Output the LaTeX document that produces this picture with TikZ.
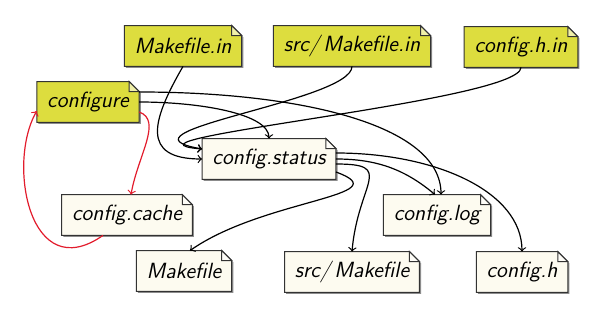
\documentclass[tikz,border=0pt]{standalone}
\usetikzlibrary{backgrounds}
\definecolor{infileyellow}{RGB}{221,221,62}
\definecolor{outfilecream}{RGB}{253,251,240}
\definecolor{cachered}{RGB}{226,28,44}

% dog-eared sheet behind a named node
\newcommand{\sheet}[2]{%
  \fill[black!45]
    ([shift={(0.8pt,-0.8pt)}]#1.north west) -- ([shift={(-4.2pt,-0.8pt)}]#1.north east)
    -- ([shift={(0.8pt,-5.8pt)}]#1.north east) -- ([shift={(0.8pt,-0.8pt)}]#1.south east)
    -- ([shift={(0.8pt,-0.8pt)}]#1.south west) -- cycle;
  \filldraw[fill=#2, draw=black!80, line width=0.5pt]
    (#1.north west) -- ([xshift=-5pt]#1.north east) -- ([yshift=-5pt]#1.north east)
    -- (#1.south east) -- (#1.south west) -- cycle;
  \filldraw[fill=#2!45!white, draw=black!80, line width=0.5pt]
    ([xshift=-5pt]#1.north east) -- ([shift={(-5pt,-5pt)}]#1.north east)
    -- ([yshift=-5pt]#1.north east) -- cycle;
}

\begin{document}
\begin{tikzpicture}[
  x=0.5pt, y=0.5pt,
  file/.style={font=\sffamily\itshape\fontsize{11}{13}\selectfont, minimum height=20pt, inner xsep=5pt, inner ysep=2pt},
  flow/.style={->, semithick},
  cacheflow/.style={->, semithick, cachered},
]
\useasboundingbox (0,0) rectangle (600,316);

% inputs
\node[file] (mkin)      at (183,270) {Makefile.in};
\node[file] (srcmkin)   at (352,270) {src/\,Makefile.in};
\node[file] (cfghin)    at (521,269) {config.h.in};
\node[file] (configure) at (88,214)  {configure};

% outputs
\node[file] (status) at (269,157) {config.status};
\node[file] (cache)  at (127,101) {config.cache};
\node[file] (log)    at (437,101) {config.log};
\node[file] (mk)     at (184,45)  {Makefile};
\node[file] (srcmk)  at (352,44)  {src/\,Makefile};
\node[file] (cfgh)   at (522,44)  {config.h};

\begin{scope}[on background layer]
  \foreach \f in {mkin,srcmkin,cfghin,configure}
    \sheet{\f}{infileyellow};
  \foreach \f in {status,cache,log,mk,srcmk,cfgh}
    \sheet{\f}{outfilecream};
\end{scope}

% templates into config.status
\draw[flow] (mkin.south) .. controls +(-120:62) and +(180:62) .. (status.west);
\draw[flow] (srcmkin.south) .. controls +(-90:35) and +(170:100) .. ([yshift=5pt]status.west);
\draw[flow] (cfghin.south) .. controls +(-90:34) and +(175:110) .. ([yshift=5pt]status.west);

% configure
\draw[flow] (configure.east) .. controls +(0:60) and +(90:25) .. (status.north);
\draw[flow] ([yshift=5pt]configure.east) .. controls +(0:160) and +(90:70) .. ([xshift=2pt]log.north);
\draw[cacheflow] ([yshift=-5pt]configure.east) .. controls +(-20:25) and +(80:40) .. ([xshift=2pt]cache.north);
\draw[cacheflow] ([xshift=-12pt]cache.south) .. controls +(-145:90) and +(240:60) .. ([yshift=-4.5pt]configure.west);

% config.status outputs
\draw[flow] ([yshift=3pt]status.east) .. controls +(0:100) and +(90:60) .. (cfgh.north);
\draw[flow] (status.east) .. controls +(0:40) and +(140:40) .. ([xshift=-1pt]log.north);
\draw[flow] ([yshift=-2.5pt]status.east) .. controls +(0:60) and +(85:70) .. (srcmk.north);
\draw[flow] ([yshift=-6.5pt]status.east) .. controls +(-20:70) and +(35:90) .. ([xshift=3pt]mk.north);

\end{tikzpicture}
\end{document}
